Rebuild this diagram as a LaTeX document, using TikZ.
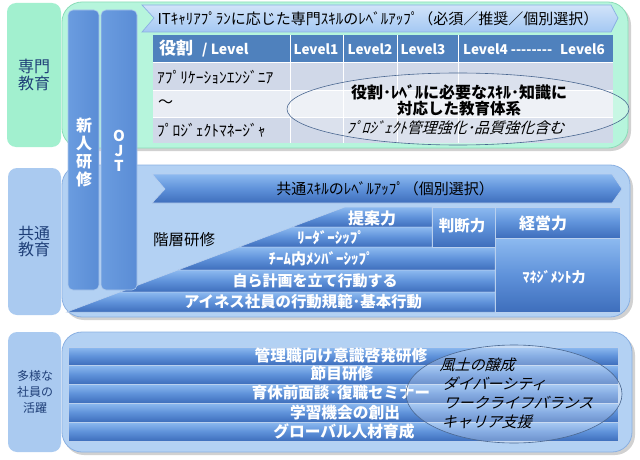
\documentclass[tikz,border=0pt]{standalone}
\usepackage{fontspec}
\setmainfont{Noto Sans CJK JP}
\usetikzlibrary{shapes.geometric}
\definecolor{mintlbl}{HTML}{A2F0CF}
\definecolor{mintpan}{HTML}{B6F5DC}
\definecolor{mintline}{HTML}{8ADDB8}
\definecolor{bluelbl}{HTML}{AACAF0}
\definecolor{bluepan}{HTML}{B3D1F3}
\definecolor{blueline}{HTML}{8AB0E2}
\definecolor{navy}{HTML}{1F3F78}
\definecolor{hdr}{HTML}{4F81BD}
\definecolor{rowA}{HTML}{D0D8E8}
\definecolor{rowB}{HTML}{E9EDF4}
\definecolor{barTop}{HTML}{8DBAF0}
\definecolor{barMid}{HTML}{5F92DA}
\definecolor{barBot}{HTML}{3E6EBC}
\definecolor{ellline}{HTML}{4A6790}
\tikzset{
  lblbox/.style={rounded corners=9pt, draw=none},
  panel/.style={rounded corners=20pt, line width=0.8pt},
  colbar/.style={rounded corners=5pt, left color=barMid!75!barTop, right color=barMid!85!barBot, draw=blueline!70!white, line width=0.6pt},
  blubar/.style={top color=barTop, bottom color=barBot, middle color=barMid, draw=blueline!60!white, line width=0.5pt},
  wtxt/.style={text=white, inner sep=0pt, font=\bfseries\fontsize{15}{17}\selectfont},
  btxt/.style={text=black, inner sep=0pt, font=\fontsize{15}{17}\selectfont},
  ltxt/.style={text=navy, inner sep=0pt, align=center},
  itxt/.style={text=black, inner sep=0pt, anchor=west, xslant=0.3, transform shape, font=\fontsize{15}{17}\selectfont},
  cell/.style={draw=white, line width=1pt},
  ell/.style={draw=ellline, line width=0.6pt, fill=white, fill opacity=0.25},
}
\begin{document}
\begin{tikzpicture}[x=1pt,y=-1pt]
\useasboundingbox (0,0) rectangle (640,460);
\fill[white] (0,0) rectangle (640,460);
% left labels
\fill[mintlbl,lblbox] (7,3) rectangle (61,147);
\fill[bluelbl,lblbox] (8,168) rectangle (61,315);
\fill[bluelbl,lblbox] (8,332) rectangle (61,452);
\node[ltxt, font=\fontsize{16}{17}\selectfont] (lab1) at (34,75) {専門\\教育};
\node[ltxt, font=\fontsize{16}{16}\selectfont] (lab2) at (34,242) {共通\\教育};
\node[ltxt, font=\fontsize{12}{16}\selectfont] (lab3) at (35,392) {多様な\\社員の\\活躍};
% panels
\fill[black!18, rounded corners=20pt] (64,5) rectangle (631,151);
\filldraw[panel, fill=mintpan, draw=mintline] (62,2) rectangle (628,148);
\fill[black!18, rounded corners=20pt] (64,168) rectangle (633,320);
\filldraw[panel, fill=bluepan, draw=blueline] (62,165) rectangle (630,317);
\fill[black!18, rounded corners=20pt] (64,335) rectangle (635,455);
\filldraw[panel, fill=bluepan, draw=blueline] (62,332) rectangle (632,452);
% top banner
\draw[top color=white!60!barTop, bottom color=barTop!80!white, draw=blueline, line width=0.7pt]
  (142,5) -- (611,5) -- (618,18) -- (611,32) -- (142,32) -- (154,18) -- cycle;
\node[btxt] (ban1) at (378,19) {ITｷｬﾘｱﾌﾟﾗﾝに応じた専門ｽｷﾙのﾚﾍﾞﾙｱｯﾌﾟ（必須／推奨／個別選択）};
% table
\fill[hdr] (153,35) rectangle (613,63);
\fill[rowA] (153,63) rectangle (613,90);
\fill[rowB] (153,90) rectangle (613,117);
\fill[rowA] (153,117) rectangle (613,143);
\foreach \xx in {290,343,397,458}{\draw[cell] (\xx,35) -- (\xx,143);}
\foreach \yy in {63,90,117}{\draw[cell] (153,\yy) -- (613,\yy);}
\node[text=white, inner sep=0pt, anchor=west] (h0) at (159,49) {\bfseries\fontsize{17}{18}\selectfont 役割\hspace{9pt}\fontsize{14}{16}\selectfont/ Level};
\node[text=white, inner sep=0pt, font=\bfseries\fontsize{13.5}{16}\selectfont] (h1) at (316,49) {Level1};
\node[text=white, inner sep=0pt, font=\bfseries\fontsize{13.5}{16}\selectfont] (h2) at (370,49) {Level2};
\node[text=white, inner sep=0pt, font=\bfseries\fontsize{13.5}{16}\selectfont] (h3) at (423,49) {Level3};
\node[text=white, inner sep=0pt, font=\bfseries\fontsize{13.5}{16}\selectfont] (h4) at (534,49) {Level4 -{}-{}-{}-{}-{}-{}-{}-\hspace{8pt}Level6};
\node[btxt, anchor=west, font=\fontsize{15.5}{17}\selectfont] (r1) at (157,77) {ｱﾌﾟﾘｹｰｼｮﾝｴﾝｼﾞﾆｱ};
\node[btxt, anchor=west, font=\fontsize{15}{17}\selectfont] (r2) at (158,104) {～};
\node[btxt, anchor=west, font=\fontsize{15.5}{17}\selectfont] (r3) at (157,130) {ﾌﾟﾛｼﾞｪｸﾄﾏﾈｰｼﾞｬ};
\draw[ell] (458,109) ellipse [x radius=171, y radius=36];
\node[btxt, font=\bfseries\fontsize{16}{18}\selectfont] (e1) at (459,92) {役割･ﾚﾍﾞﾙに必要なｽｷﾙ･知識に};
\node[btxt, font=\bfseries\fontsize{15.5}{18}\selectfont] (e2) at (459,109) {対応した教育体系};
\node[btxt, xslant=0.3, transform shape, font=\fontsize{15}{17}\selectfont] (e3) at (457,128) {ﾌﾟﾛｼﾞｪｸﾄ管理強化･品質強化含む};
% middle banner
\draw[top color=barTop, bottom color=barBot, middle color=barMid, draw=blueline!60!white, line width=0.6pt]
  (152,174) -- (612,174) -- (622,189) -- (612,203) -- (152,203) -- (165,189) -- cycle;
\node[btxt] (ban2) at (385,189) {共通ｽｷﾙのﾚﾍﾞﾙｱｯﾌﾟ（個別選択）};
\node[btxt, font=\fontsize{15.5}{17}\selectfont] (kaiso) at (184,240) {階層研修};
% staircase
\draw[blubar] (345,207) -- (432,207) -- (432,227) -- (292,227) -- cycle;
\draw[blubar] (292,227) -- (432,227) -- (432,247) -- (239,247) -- cycle;
\draw[blubar] (239,247) -- (495,247) -- (495,270) -- (178,270) -- cycle;
\draw[blubar] (178,270) -- (495,270) -- (495,292) -- (120,292) -- cycle;
\draw[blubar] (120,292) -- (495,292) -- (495,312) -- (67,312) -- cycle;
\draw[blubar] (432,207) rectangle (495,247);
\draw[blubar] (495,207) rectangle (620,238);
\draw[blubar] (495,238) rectangle (620,312);
\node[wtxt, font=\bfseries\fontsize{16}{17}\selectfont] (s1) at (372,218) {提案力};
\node[wtxt, font=\bfseries\fontsize{15}{17}\selectfont] (s2) at (331,238) {ﾘｰﾀﾞｰｼｯﾌﾟ};
\node[wtxt, font=\bfseries\fontsize{15}{17}\selectfont] (s3) at (321,259) {ﾁｰﾑ内ﾒﾝﾊﾞｰｼｯﾌﾟ};
\node[wtxt, font=\bfseries\fontsize{15}{17}\selectfont] (s4) at (315,281) {自ら計画を立て行動する};
\node[wtxt, font=\bfseries\fontsize{15.4}{17}\selectfont] (s5) at (303,302) {アイネス社員の行動規範･基本行動};
\node[wtxt, font=\bfseries\fontsize{15.5}{17}\selectfont] (s6) at (462,226) {判断力};
\node[wtxt, font=\bfseries\fontsize{16}{17}\selectfont] (s7) at (543,223) {経営力};
\node[wtxt, font=\bfseries\fontsize{14}{17}\selectfont] (s8) at (554,277) {ﾏﾈｼﾞﾒﾝﾄ力};
% vertical columns
\draw[colbar] (68,10) rectangle (99,290);
\draw[colbar] (101,10) rectangle (137,290);
\node[wtxt, align=center, font=\bfseries\fontsize{16}{18}\selectfont] (col1) at (84,152) {新\\人\\研\\修};
\node[wtxt, align=center, font=\bfseries\fontsize{15}{15}\selectfont] (col2) at (119,151) {O\\J\\T};
% bottom bars
\foreach \yt/\yb in {347/365,365/384,384/403,403/422,422/441}{
  \draw[blubar] (68,\yt) rectangle (618,\yb);
}
\node[wtxt, font=\bfseries\fontsize{15.7}{17}\selectfont] (b1) at (341,356) {管理職向け意識啓発研修};
\node[wtxt, font=\bfseries\fontsize{15.7}{17}\selectfont] (b2) at (342,374) {節目研修};
\node[wtxt, font=\bfseries\fontsize{15.5}{17}\selectfont] (b3) at (341,393) {育休前面談･復職セミナー};
\node[wtxt, font=\bfseries\fontsize{15.7}{17}\selectfont] (b4) at (345,412) {学習機会の創出};
\node[wtxt, font=\bfseries\fontsize{15.7}{17}\selectfont] (b5) at (344,431) {グローバル人材育成};
\draw[ell] (514,394) ellipse [x radius=108, y radius=49];
\node[itxt] (i1) at (441,365) {風土の醸成};
\node[itxt] (i2) at (444,384) {ダイバーシティ};
\node[itxt] (i3) at (445,403) {ワークライフバランス};
\node[itxt] (i4) at (443,422) {キャリア支援};
\end{tikzpicture}
\end{document}
